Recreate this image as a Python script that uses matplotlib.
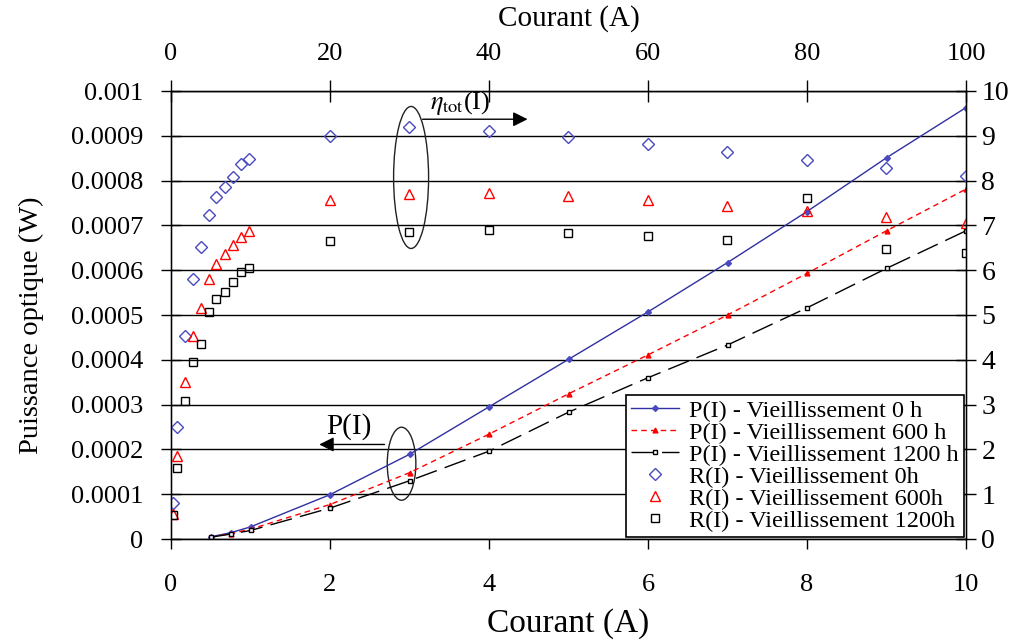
import matplotlib
matplotlib.use("Agg")
import matplotlib.pyplot as plt
from matplotlib.patches import Ellipse

plt.rcParams['font.family'] = ['Liberation Serif', 'DejaVu Serif']
plt.rcParams['mathtext.fontset'] = 'stix'

# P(I) data (bottom axis: Courant 0-10 A, left axis: W)
current_p = [0.5, 0.75, 1, 2, 3, 4, 5, 6, 7, 8, 9, 10]
p_0h = [0.000005, 0.000014, 0.000027, 0.000099, 0.000189, 0.000295, 0.000401,
        0.000507, 0.000617, 0.000731, 0.000851, 0.000963]
p_600h = [0.000004, 0.000012, 0.000022, 0.000077, 0.000148, 0.000234, 0.000324,
          0.000411, 0.000500, 0.000593, 0.000688, 0.000781]
p_1200h = [0.000004, 0.000011, 0.000019, 0.000069, 0.000130, 0.000196, 0.000283,
           0.000360, 0.000433, 0.000516, 0.000604, 0.000688]

# R(I) data (top axis: Courant 0-100 A, right axis 0-10)
current_r = [0.2, 0.7, 1.8, 2.8, 3.8, 4.8, 5.7, 6.8, 7.8, 8.8, 9.8,
             20, 30, 40, 50, 60, 70, 80, 90, 100]
r_0h = [0.81, 2.51, 4.53, 5.80, 6.51, 7.23, 7.63, 7.86, 8.09, 8.36, 8.49,
        9.00, 9.20, 9.10, 8.98, 8.81, 8.63, 8.46, 8.29, 8.11]
r_600h = [0.55, 1.86, 3.51, 4.53, 5.16, 5.80, 6.14, 6.36, 6.56, 6.75, 6.88,
          7.57, 7.69, 7.72, 7.66, 7.57, 7.44, 7.32, 7.19, 7.06]
r_1200h = [0.53, 1.59, 3.09, 3.94, 4.35, 5.07, 5.36, 5.51, 5.74, 5.95, 6.06,
           6.65, 6.85, 6.89, 6.82, 6.77, 6.67, 7.61, 6.47, 6.38]

left_ticks = [0, 0.0001, 0.0002, 0.0003, 0.0004, 0.0005, 0.0006, 0.0007, 0.0008, 0.0009, 0.001]
left_labels = ['0', '0.0001', '0.0002', '0.0003', '0.0004', '0.0005', '0.0006',
               '0.0007', '0.0008', '0.0009', '0.001']
bottom_ticks = [0, 2, 4, 6, 8, 10]
top_ticks = [0, 20, 40, 60, 80, 100]
right_ticks = list(range(0, 11))

fig = plt.figure(figsize=(10.19, 6.4), dpi=100)
ax = fig.add_axes([171/1019, 101/640, 795/1019, 448/640])
ax.set_xlim(0, 10)
ax.set_ylim(0, 0.001)
ax.set_yticks(left_ticks)
ax.set_yticklabels(left_labels)
ax.set_xticks(bottom_ticks)
ax.yaxis.grid(True, color='black', linewidth=1.0)
ax.set_axisbelow(True)
ax.tick_params(axis='y', direction='inout', length=14, width=1, labelsize=19, pad=13)
ax.tick_params(axis='x', direction='out', length=7, width=1, labelsize=19, pad=18)
ax.set_xlabel('Courant (A)', fontsize=24, labelpad=9)
ax.set_ylabel('Puissance optique (W)', fontsize=20.5)
ax.yaxis.set_label_coords(-0.16, 0.478)
for s in ax.spines.values():
    s.set_linewidth(1.0)

blue_line = '#3030a0'
blue_mark = '#4a4ac0'
l0, = ax.plot(current_p, p_0h, color=blue_line, lw=1.0, marker='D', ms=3,
              mfc=blue_mark, mec=blue_mark, label='P(I) - Vieillissement 0 h')
l1, = ax.plot(current_p, p_600h, color='#ff0000', lw=1.0, ls=(0, (4, 3)), marker='^', ms=3.5,
              mfc='#ff0000', mec='#ff0000', label='P(I) - Vieillissement 600 h')
l2, = ax.plot(current_p, p_1200h, color='black', lw=1.0, ls=(0, (16, 6)), marker='s', ms=3,
              mfc='white', mec='black', label='P(I) - Vieillissement 1200 h')

ax2 = ax.twinx()
ax2.set_ylim(0, 10)
ax2.set_yticks(right_ticks)
ax2.tick_params(axis='y', direction='inout', length=14, width=1, labelsize=20, pad=4)
ax3 = ax2.twiny()
ax3.set_xlim(0, 100)
ax3.set_xticks(top_ticks)
ax3.tick_params(axis='x', direction='inout', length=16, width=1, labelsize=19, pad=10.5)
ax3.set_xlabel('Courant (A)', fontsize=21, labelpad=13)

m0, = ax3.plot(current_r, r_0h, ls='none', marker='D', ms=6, mfc='none', mec=blue_mark,
               mew=1.0, label='R(I) - Vieillissement 0h')
m1, = ax3.plot(current_r, r_600h, ls='none', marker='^', ms=7.5, mfc='none', mec='#ff0000',
               mew=1.0, label='R(I) - Vieillissement 600h')
m2, = ax3.plot(current_r, r_1200h, ls='none', marker='s', ms=6, mfc='none', mec='black',
               mew=1.0, label='R(I) - Vieillissement 1200h')

# annotations
ax3.add_patch(Ellipse((30.2, 8.07), 4.4, 3.17, fill=False, ec='#222222', lw=1.0))
ax3.annotate('', xy=(45.2, 9.37), xytext=(31.3, 9.37),
             arrowprops=dict(arrowstyle='-|>', color='black', lw=1.0, mutation_scale=22))
ax3.text(32.6, 9.73, r'$\eta_{\mathrm{tot}}$(I)', fontsize=19, ha='left', va='center')

ax.add_patch(Ellipse((2.90, 0.000168), 0.36, 0.000163, fill=False, ec='#222222', lw=1.0))
ax.annotate('', xy=(1.83, 0.000211), xytext=(2.72, 0.000211),
            arrowprops=dict(arrowstyle='-|>', color='black', lw=1.0, mutation_scale=22))
ax.text(1.95, 0.00025, 'P(I)', fontsize=21, ha='left', va='center')

leg = ax3.legend(handles=[l0, l1, l2, m0, m1, m2], loc='lower right', fontsize=17.5,
                 frameon=True, fancybox=False, edgecolor='black', framealpha=1,
                 borderaxespad=0.1, labelspacing=0.0, handlelength=2.0, handletextpad=0.4,
                 borderpad=0.2, numpoints=1)
leg.get_frame().set_linewidth(1.2)

fig.savefig('out.png', dpi=100)
